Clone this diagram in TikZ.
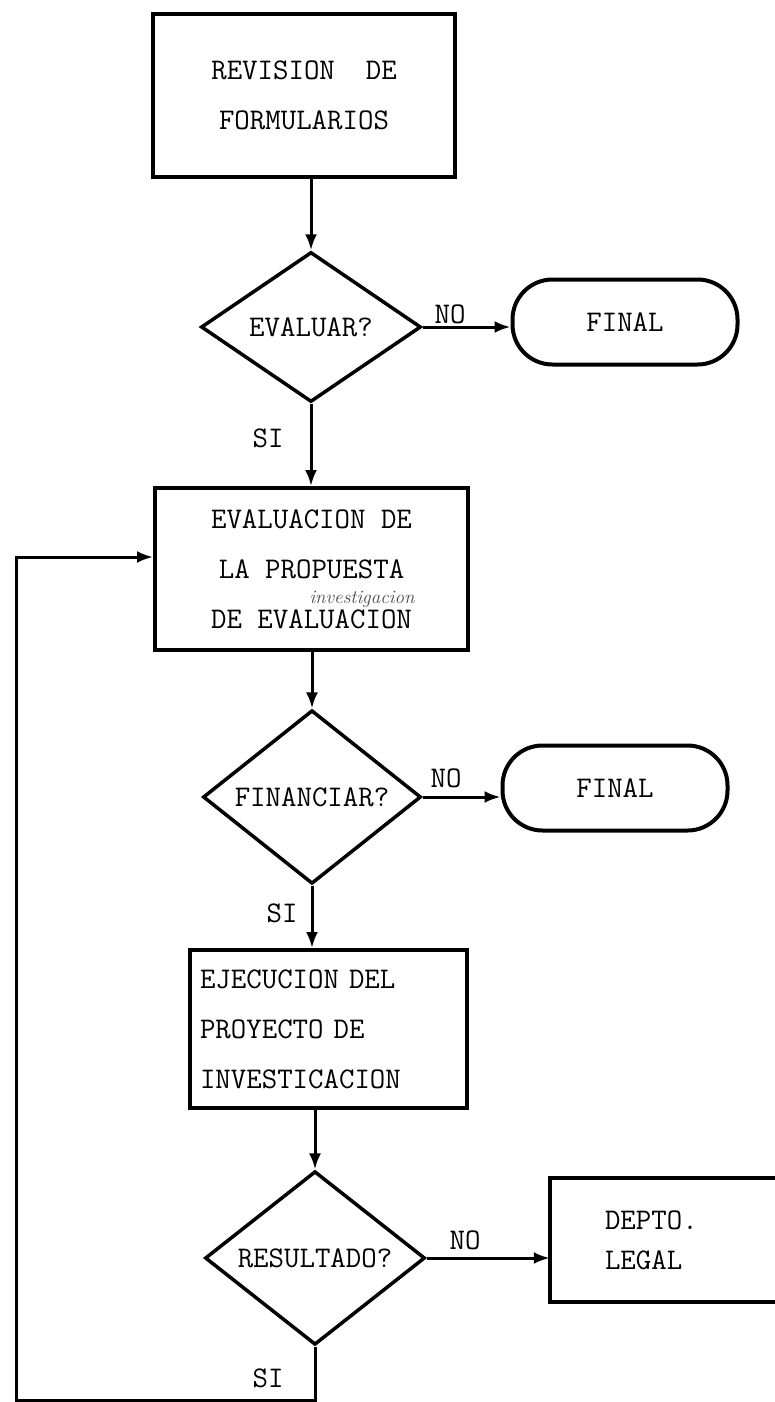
\documentclass[tikz,border=0pt]{standalone}
\usepackage{fontspec}
\usetikzlibrary{shapes.geometric,arrows.meta}
\begin{document}
\begin{tikzpicture}[x=1pt,y=-1pt,
  tw/.style={font=\fontsize{30}{50}\selectfont\ttfamily},
  procbox/.style={draw, line width=4pt, inner sep=0pt, tw},
  decision/.style={diamond, draw, line width=3.5pt, inner sep=0pt, tw, minimum width=220pt, minimum height=150pt},
  terminal/.style={draw, line width=4pt, rounded corners=40pt, inner sep=0pt, tw, minimum width=225pt, minimum height=85pt},
  conn/.style={line width=3pt, -{Latex[length=16pt,width=12pt]}},
  lbl/.style={tw, inner sep=2pt}]
\clip (0,0) rectangle (775,1402);
\fill[white] (0,0) rectangle (775,1402);

% boxes
\node[procbox, minimum width=302pt, minimum height=163pt, align=center] (b1) at (304,95.5) {REVISION\ \ DE\\FORMULARIOS};
\node[decision] (d1) at (311,327) {EVALUAR?};
\node[terminal] (f1) at (625,322) {FINAL};

\node[procbox, minimum width=313pt, minimum height=162pt, align=center] (b2) at (311.5,569) {EVALUACION DE\\LA PROPUESTA\\DE EVALUACION};
\node[font=\fontsize{19}{19}\selectfont\itshape, text=black!70, inner sep=0pt, anchor=base] (hand) at (362,603) {investigacion};

\node[decision, minimum width=218pt] (d2) at (312,797) {FINANCIAR?};
\node[terminal] (f2) at (615,788) {FINAL};

\node[procbox, minimum width=277pt, minimum height=158pt, inner xsep=10pt, text width=257pt, align=left] (b3) at (328.5,1029) {EJECUCION DEL\\PROYECTO DE\\INVESTICACION};

\node[decision] (d3) at (315,1258) {RESULTADO?};
\node[minimum width=250pt, minimum height=124pt, inner xsep=55pt, inner ysep=0pt, text width=140pt, align=left, font=\fontsize{30}{40}\selectfont\ttfamily] (dl) at (675,1240) {DEPTO.\\LEGAL};
\draw[line width=4pt] (dl.north east) -- (dl.north west) -- (dl.south west) -- (dl.south east);

% connectors
\draw[conn] (b1.south -| d1.north) -- (d1.north);
\draw[conn] (d1.east) -- (d1.east -| f1.west);
\node[lbl] (no1) at (450,314) {NO};
\draw[conn] (d1.south) -- (b2.north -| d1.south);
\node[lbl] (si1) at (268,438) {SI};

\draw[conn] (b2.south -| d2.north) -- (d2.north);
\draw[conn] (d2.east) -- (d2.east -| f2.west);
\node[lbl] (no2) at (446,778) {NO};
\draw[conn] (d2.south) -- (b3.north -| d2.south);
\node[lbl] (si2) at (282,913) {SI};

\draw[conn] (b3.south -| d3.north) -- (d3.north);
\draw[conn] (d3.east) -- (d3.east -| dl.west);
\node[lbl] (no3) at (465,1240) {NO};
\node[lbl] (si3) at (268,1378) {SI};

\coordinate (lb) at (16,1400);
\draw[conn] (d3.south) |- (lb) |- ([yshift=12pt]b2.west);
\end{tikzpicture}
\end{document}
